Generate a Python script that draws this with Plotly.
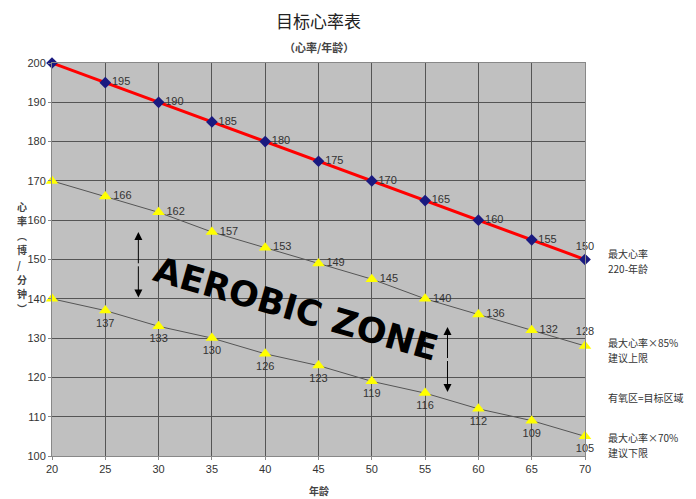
import plotly.graph_objects as go

ages = [20, 25, 30, 35, 40, 45, 50, 55, 60, 65, 70]
max_hr = [200, 195, 190, 185, 180, 175, 170, 165, 160, 155, 150]
upper_hr = [170, 166, 162, 157, 153, 149, 145, 140, 136, 132, 128]
lower_hr = [140, 137, 133, 130, 126, 123, 119, 116, 112, 109, 105]
x_ticks = [20, 25, 30, 35, 40, 45, 50, 55, 60, 65, 70]
y_ticks = [100, 110, 120, 130, 140, 150, 160, 170, 180, 190, 200]
y_title_chars = ["心", "率", "︵", "博", "/", "分", "钟", "︶"]
side_notes = [
    (["最大心率", "220-年龄"], 149.5),
    (["最大心率×85%", "建议上限"], 127.1),
    (["有氧区=目标区域"], 115.0),
    (["最大心率×70%", "建议下限"], 102.9),
]

CJK = "Noto Sans CJK SC"
LAB = "Liberation Sans, Arial"

def labels(vals):
    return [""] + [str(v) for v in vals[1:]]

fig = go.Figure()

fig.add_trace(go.Scatter(
    x=ages, y=upper_hr, mode="lines+markers+text",
    line=dict(color="#555555", width=1),
    marker=dict(symbol="triangle-up", size=11, color="#ffff00"),
    text=labels(upper_hr),
    textposition=["middle right"] * 10 + ["top center"],
    textfont=dict(family=LAB, size=11, color="#333333"),
    cliponaxis=False, showlegend=False))

fig.add_trace(go.Scatter(
    x=ages, y=lower_hr, mode="lines+markers+text",
    line=dict(color="#555555", width=1),
    marker=dict(symbol="triangle-up", size=11, color="#ffff00"),
    text=labels(lower_hr),
    textposition="bottom center",
    textfont=dict(family=LAB, size=11, color="#333333"),
    cliponaxis=False, showlegend=False))

fig.add_trace(go.Scatter(
    x=ages, y=max_hr, mode="lines+markers+text",
    line=dict(color="#ff0000", width=3),
    marker=dict(symbol="diamond", size=9, color="#1a1a80"),
    text=labels(max_hr),
    textposition=["middle right"] * 10 + ["top center"],
    textfont=dict(family=LAB, size=11, color="#333333"),
    cliponaxis=False, showlegend=False))

annotations = [
    dict(text="目标心率表", xref="paper", yref="paper", x=0.5, y=1.0, yanchor="middle", yshift=43,
         showarrow=False, font=dict(family=CJK, size=17, color="#222222")),
    dict(text="<b>（心率/年龄）</b>", xref="paper", yref="paper", x=0.5, y=1.0, yanchor="middle",
         yshift=16, showarrow=False, font=dict(family=CJK, size=11, color="#444444")),
    dict(text="<b>年龄</b>", xref="paper", yref="paper", x=0.5, y=0, yanchor="middle", yshift=-34,
         showarrow=False, font=dict(family=CJK, size=10, color="#444444")),
    dict(text="<b>AEROBIC ZONE</b>", x=42.9, y=137.4, showarrow=False, textangle=16,
         font=dict(family="DejaVu Sans, Verdana", size=35, color="#000000")),
]

# vertical y-axis title, one character per annotation
n = len(y_title_chars)
for i, ch in enumerate(y_title_chars):
    annotations.append(dict(text="<b>" + ch + "</b>", xref="paper", yref="y", x=0, xshift=-37,
                            y=150.6, yanchor="middle", yshift=(n - 1) / 2 * 14.6 - i * 14.6,
                            showarrow=False, font=dict(family=CJK, size=10, color="#444444")))

# right-hand notes, one annotation per line
for lines, yc in side_notes:
    n = len(lines)
    for i, line in enumerate(lines):
        annotations.append(dict(text=line, xref="paper", yref="y", x=1.0, xanchor="left",
                                xshift=21, y=yc, yanchor="middle",
                                yshift=(n - 1) / 2 * 15 - i * 15, showarrow=False,
                                font=dict(family=CJK, size=10, color="#333333")))

# double-headed arrows
for (ax_, y0, y1) in [(28.1, 157, 140.3), (57.1, 132.8, 116.3)]:
    mid = (y0 + y1) / 2
    for tip in (y0, y1):
        annotations.append(dict(x=ax_, y=tip, ax=ax_, ay=mid, xref="x", yref="y",
                                axref="x", ayref="y", showarrow=True, arrowhead=2,
                                arrowsize=1.6, arrowwidth=1, arrowcolor="#000000", text=""))

fig.update_layout(
    width=688, height=491,
    margin=dict(l=44, r=111, t=55, b=43),
    paper_bgcolor="#ffffff", plot_bgcolor="#c0c0c0",
    annotations=annotations,
    xaxis=dict(range=[20, 70], tickvals=x_ticks, showgrid=True, gridcolor="#555555",
               gridwidth=1, zeroline=False, showline=True, linecolor="#888888", mirror=True,
               ticks="outside", ticklen=3, tickcolor="#888888",
               tickfont=dict(family=LAB, size=11, color="#333333")),
    yaxis=dict(range=[100, 200], tickvals=y_ticks, showgrid=True, gridcolor="#555555",
               gridwidth=1, zeroline=False, showline=True, linecolor="#888888", mirror=True,
               ticks="outside", ticklen=3, tickcolor="#888888",
               tickfont=dict(family=LAB, size=11, color="#333333")),
)

fig.write_html("out.html")
